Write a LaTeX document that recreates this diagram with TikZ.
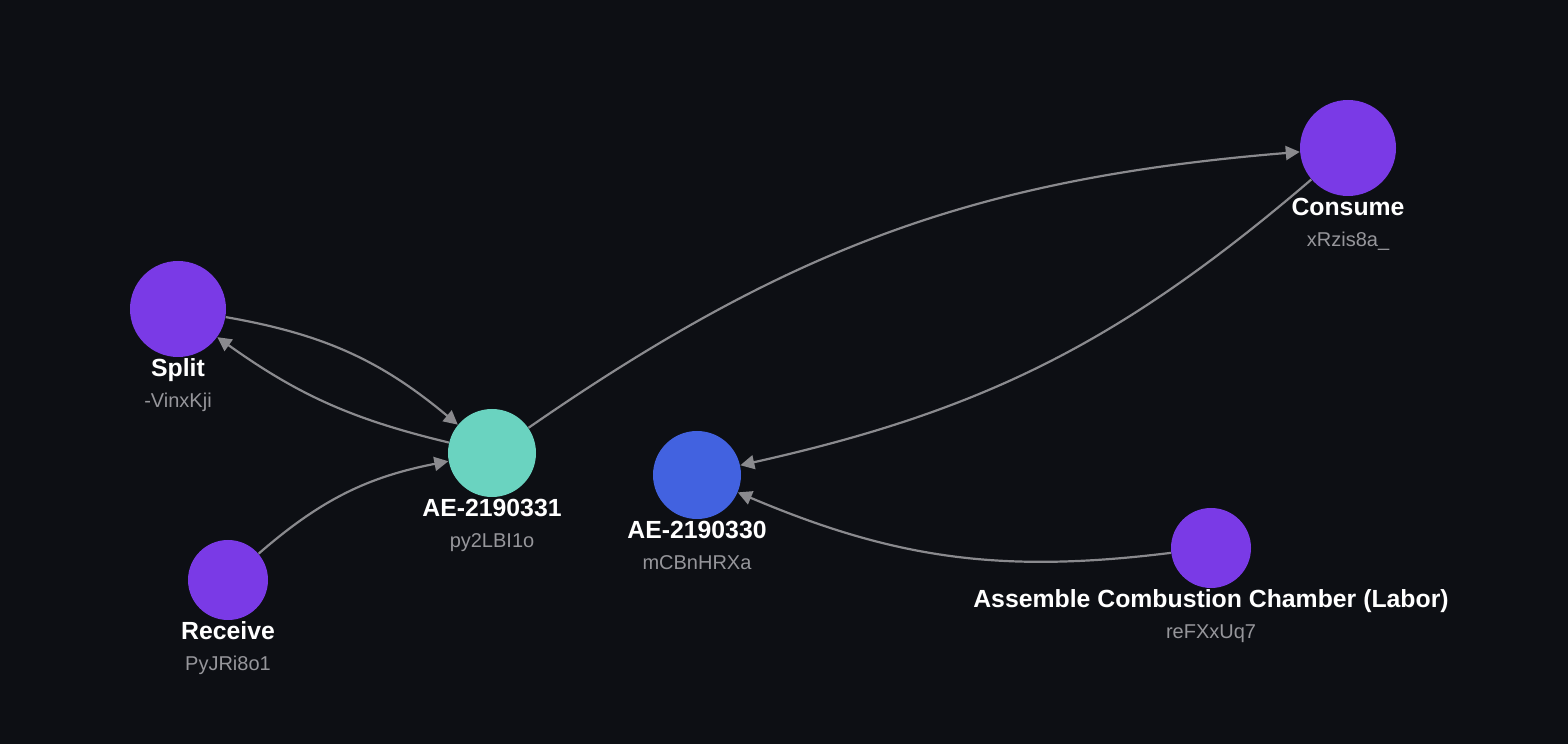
\documentclass[tikz,border=0pt]{standalone}
\usepackage{fontspec}
\setmainfont{Liberation Sans}
\usetikzlibrary{positioning,arrows.meta}
\definecolor{bg}{HTML}{0D0F14}
\definecolor{procpurple}{HTML}{7A3AE6}
\definecolor{partteal}{HTML}{6AD3C0}
\definecolor{partblue}{HTML}{4262E0}
\definecolor{edgegray}{HTML}{8A8A8E}
\definecolor{idgray}{HTML}{96969B}

\begin{document}
\begin{tikzpicture}[x=0.5pt,y=0.5pt,
   proc/.style={circle,fill=procpurple,inner sep=0pt,minimum size=#1},
   part/.style={circle,fill=#1,inner sep=0pt,minimum size=44pt},
   title/.style={anchor=base,inner sep=0pt,text=white,font=\fontsize{12.4}{14}\selectfont\bfseries},
   ident/.style={anchor=base,inner sep=0pt,text=idgray,font=\fontsize{10}{12}\selectfont},
   edge/.style={draw=edgegray,line width=1.1pt,-{Triangle[length=7pt,width=7pt]}}]
\fill[bg] (0,0) rectangle (1568,744);
\useasboundingbox (0,0) rectangle (1568,744);

\node[proc=48pt] (split) at (178,435) {};
\node[proc=40pt] (receive) at (228,164) {};
\node[part=partteal] (ae31) at (492,291) {};
\node[part=partblue] (ae30) at (697,269) {};
\node[proc=48pt] (consume) at (1348,596) {};
\node[proc=40pt] (assemble) at (1211,196) {};

\node[title] (splitname) at ([yshift=-9.75pt]split.south) {Split};
\node[ident] (splitid) at ([yshift=-15.5pt]splitname.base) {-VinxKji};
\node[title] (receivename) at ([yshift=-9.75pt]receive.south) {Receive};
\node[ident] (receiveid) at ([yshift=-15.5pt]receivename.base) {PyJRi8o1};
\node[title] (ae31name) at ([yshift=-9.75pt]ae31.south) {AE-2190331};
\node[ident] (ae31id) at ([yshift=-15.5pt]ae31name.base) {py2LBI1o};
\node[title] (ae30name) at ([yshift=-9.75pt]ae30.south) {AE-2190330};
\node[ident] (ae30id) at ([yshift=-15.5pt]ae30name.base) {mCBnHRXa};
\node[title] (consumename) at ([yshift=-9.75pt]consume.south) {Consume};
\node[ident] (consumeid) at ([yshift=-15.5pt]consumename.base) {xRzis8a\_};
\node[title] (assemblename) at ([yshift=-9.75pt]assemble.south) {Assemble Combustion Chamber (Labor)};
\node[ident] (assembleid) at ([yshift=-15.5pt]assemblename.base) {reFXxUq7};

\draw[edge] (split) to[bend left=15] (ae31);
\draw[edge] (ae31) to[bend left=11] (split);
\draw[edge] (receive) to[bend left=15] (ae31);
\draw[edge] (ae31) to[bend left=15] (consume);
\draw[edge] (consume) to[bend left=14] (ae30);
\draw[edge] (assemble) to[bend left=15] (ae30);

\end{tikzpicture}
\end{document}
